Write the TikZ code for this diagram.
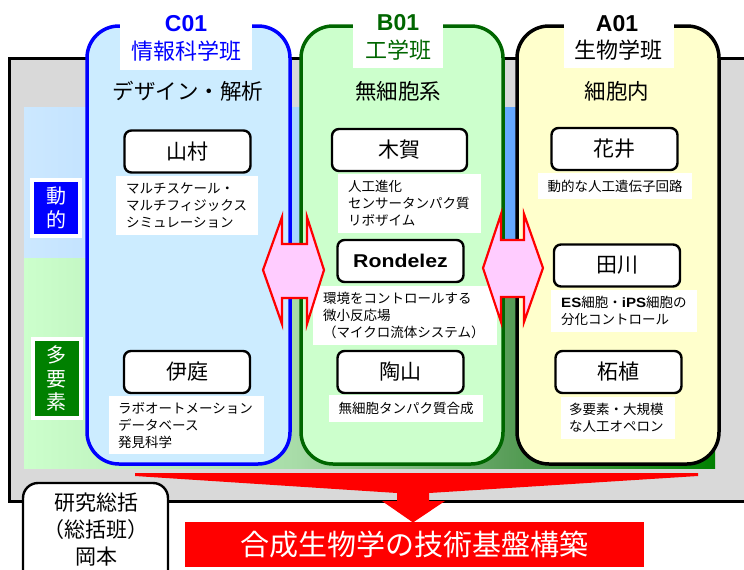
\documentclass[tikz,border=0pt]{standalone}
\usepackage{fontspec}
\usepackage{graphicx}
\setmainfont{Noto Sans CJK JP}
\newfontfamily\latb{Liberation Sans}
\newcommand\fsz[2]{\fontsize{#1pt}{#2pt}\selectfont}
\definecolor{bggray}{RGB}{217,217,217}
\definecolor{bA}{RGB}{204,232,255}
\definecolor{bB}{RGB}{168,212,255}
\definecolor{bC}{RGB}{102,170,255}
\definecolor{bD}{RGB}{40,130,255}
\definecolor{gA}{RGB}{204,255,204}
\definecolor{gB}{RGB}{168,220,168}
\definecolor{gC}{RGB}{90,158,90}
\definecolor{gD}{RGB}{0,128,0}
\definecolor{cfill}{RGB}{204,236,255}
\definecolor{bfill}{RGB}{204,255,204}
\definecolor{afill}{RGB}{255,255,204}
\definecolor{dgreen}{RGB}{0,102,0}
\definecolor{pinkfill}{RGB}{255,204,255}
\definecolor{tagblue}{RGB}{0,0,255}
\definecolor{taggreen}{RGB}{0,128,0}
\begin{document}
\begin{tikzpicture}[x=1pt,y=-1pt,
  namebox/.style={draw, fill=white, rounded corners=7pt, line width=2.4pt, minimum width=126pt, minimum height=42pt, inner sep=0pt, font=\fsz{21}{24}},
  desc/.style={fill=white, align=left, font=\fsz{13.5}{17}, inner ysep=0pt, anchor=north west},
  grp/.style={rounded corners=32pt, line width=3.5pt},
  labelbg/.style={fill=white, inner sep=0pt},
  subtitle/.style={font=\fsz{21.5}{24}, inner sep=0pt},
  dblarrow/.style={fill=pinkfill, draw=red, line width=2.2pt, line join=miter},
  tag/.style={draw=white, line width=4pt, align=center, text=white, minimum width=48pt, font=\fsz{20}{23.5}, inner sep=0pt},
]
\useasboundingbox (0,0) rectangle (744,570);
% outer frame
\draw[fill=bggray, line width=3pt] (9,58) rectangle (770,501);
% background bands
\shade[left color=bA, right color=bB] (24,107) rectangle (295.2,258);
\shade[left color=bB, right color=bC] (295,107) rectangle (505.2,258);
\shade[left color=bC, right color=bD] (505,107) rectangle (715,258);
\shade[left color=gA, right color=gB] (24,258) rectangle (295.2,468);
\shade[left color=gB, right color=gC] (295,258) rectangle (505.2,468);
\shade[left color=gC, right color=gD] (505,258) rectangle (715,468);
% groups
\draw[grp, draw=tagblue, fill=cfill] (87,26) rectangle (290,464);
\draw[grp, draw=dgreen, fill=bfill] (301,26) rectangle (503,464);
\draw[grp, draw=black, fill=afill] (517,26) rectangle (719,464);
% group labels
\node[labelbg, minimum width=132pt, minimum height=60pt] (cbg) at (186,40) {};
\node[font=\latb\bfseries\fsz{23}{25}, text=tagblue, inner sep=0pt] (c01) at (186,24) {C01};
\node[font=\fsz{22}{25}, text=tagblue, inner sep=0pt] (c01n) at (186,51) {情報科学班};
\node[labelbg, minimum width=90pt, minimum height=58pt] (bbg) at (398,39) {};
\node[font=\latb\bfseries\fsz{23}{25}, text=dgreen, inner sep=0pt] (b01) at (398,23) {B01};
\node[font=\fsz{22}{25}, text=dgreen, inner sep=0pt] (b01n) at (398,50) {工学班};
\node[labelbg, minimum width=110pt, minimum height=58pt] (abg) at (619,39) {};
\node[font=\latb\bfseries\fsz{23}{25}, inner sep=0pt] (a01) at (617,24) {A01};
\node[font=\fsz{22}{25}, inner sep=0pt] (a01n) at (618,50) {生物学班};
% subtitles
\node[subtitle] (cs) at (188,91) {デザイン・解析};
\node[subtitle] (bs) at (398,91) {無細胞系};
\node[subtitle] (as) at (617,91) {細胞内};
% name boxes
\node[namebox] (yam) at (187.5,151.5) {山村};
\node[namebox] (iba) at (187,372) {伊庭};
\node[namebox, minimum width=135pt] (kig) at (399.5,150) {木賀};
\node[namebox] (ron) at (400.5,261) {\latb\bfseries\fsz{18.5}{20}\scalebox{1.15}[1]{Rondelez}};
\node[namebox] (suy) at (400.5,372) {陶山};
\node[namebox] (han) at (614.5,149) {花井};
\node[namebox] (tag) at (617,265.5) {田川};
\node[namebox] (tsu) at (618.5,372) {柘植};
% descriptions
\node[desc, inner xsep=10pt, text width=122pt, minimum height=59pt] (dyam) at (116,176) {マルチスケール・\\マルチフィジックス\\シミュレーション};
\node[desc, inner xsep=10pt, text width=123pt, minimum height=59pt] (dkig) at (338,174) {人工進化\\センサータンパク質\\リボザイム};
\node[desc, inner xsep=10pt, text width=164pt, minimum height=59pt] (dron) at (313,286) {環境をコントロールする\\微小反応場\\（マイクロ流体システム）};
\node[desc, align=center, inner xsep=5pt, text width=144pt, minimum height=27pt] (dsuy) at (329,395) {無細胞タンパク質合成};
\node[desc, inner xsep=9pt, text width=137pt, minimum height=58pt] (diba) at (109,396) {ラボオートメーション\\データベース\\発見科学};
\node[desc, align=center, inner xsep=5pt, text width=144pt, minimum height=26pt] (dhan) at (538,173) {動的な人工遺伝子回路};
\node[desc, inner xsep=10pt, text width=126pt, minimum height=42pt] (dtag) at (551,290) {{\latb\bfseries\scalebox{1.12}[1]{ES}}細胞・{\latb\bfseries\scalebox{1.12}[1]{iPS}}細胞の\\分化コントロール};
\node[desc, inner xsep=8pt, text width=98pt, minimum height=42pt] (dtsu) at (561,397) {多要素・大規模\\な人工オペロン};
% double arrows
\draw[dblarrow] (263,270) -- (282,217) -- (282,244) -- (307,244) -- (307,217) -- (324,270) -- (307,324) -- (307,298) -- (282,298) -- (282,324) -- cycle;
\draw[dblarrow] (483,268) -- (501,214) -- (501,240) -- (524,240) -- (524,214) -- (543,268) -- (524,322) -- (524,297) -- (501,297) -- (501,322) -- cycle;
% side tags
\node[tag, fill=tagblue, minimum height=56pt] (dou) at (56,208) {動\\的};
\node[tag, fill=taggreen, minimum height=79pt] (tay) at (56.5,378.5) {多\\要\\素};
% big red arrow
\fill[red] (135,473) -- (698,473) -- (698,476) -- (429,493) -- (429,501) -- (445,501) -- (413,522.5) -- (382,501) -- (397,501) -- (397,493) -- (135,476) -- cycle;
\node[fill=red, text=white, minimum width=459pt, minimum height=45pt, inner sep=0pt, font=\fsz{29}{32}] (goal) at (414.5,544.5) {合成生物学の技術基盤構築};
% general box
\draw[fill=white, line width=2.4pt, rounded corners=15pt] (23,483) rectangle (168,600);
\node[align=center, font=\fsz{21}{27}, inner sep=0pt] (sou) at (96,530) {研究総括\\（総括班）\\岡本};
\end{tikzpicture}
\end{document}
